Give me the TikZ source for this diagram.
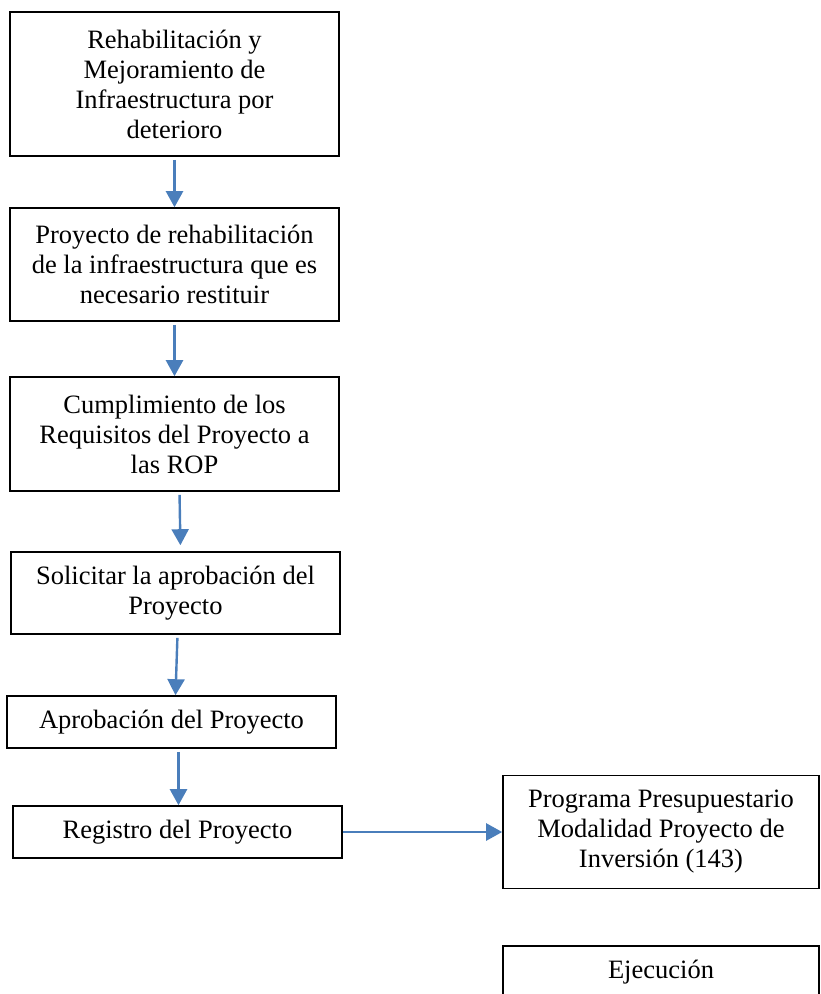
\documentclass[tikz,border=0pt]{standalone}
\usepackage{fontspec}
\setmainfont{Liberation Serif}
\usepackage{xcolor}
\usepackage{tikz}
\usetikzlibrary{arrows.meta}

\definecolor{azulflecha}{HTML}{4A7EBB}

\tikzset{
    caja/.style={draw=black, line width=1.6pt, inner sep=0pt, align=center,
        font=\fontsize{26.5}{30}\selectfont},
    flecha/.style={draw=azulflecha, line width=2.4pt,
        -{Triangle[width=17pt,length=16pt]}, shorten <=3pt}
}

\begin{document}
\begin{tikzpicture}[x=1pt,y=-1pt]

    % Marco y recorte
    \useasboundingbox (0,0) rectangle (820,994);
    \clip (0,0) rectangle (820,994);

    % Columna izquierda
    \node[caja, minimum width=329pt, minimum height=144pt] (rehab) at (174.5,84)
        {Rehabilitación y\\Mejoramiento de\\Infraestructura por\\deterioro};
    \node[caja, minimum width=329pt, minimum height=113pt] (proyecto) at (174.5,264.5)
        {Proyecto de rehabilitación\\de la infraestructura que es\\necesario restituir};
    \node[caja, minimum width=329pt, minimum height=114pt] (requisitos) at (174.5,434)
        {Cumplimiento de los\\Requisitos del Proyecto a\\las ROP};
    \node[caja, minimum width=329pt, minimum height=82pt] (solicitud) at (175.5,593)
        {Solicitar la aprobación del\\Proyecto};
    \node[caja, minimum width=329pt, minimum height=52pt] (aprobacion) at (171.5,722)
        {Aprobación del Proyecto};
    \node[caja, minimum width=329pt, minimum height=52pt] (registro) at (177.5,832)
        {Registro del Proyecto};

    % Columna derecha
    \node[caja, minimum width=316pt, minimum height=113pt] (programa) at (661,832)
        {Programa Presupuestario\\Modalidad Proyecto de\\Inversión (143)};
    \node[caja, minimum width=316pt, minimum height=52pt] (ejecucion) at (661,972)
        {Ejecución};

    % Flechas
    \draw[flecha] (rehab.south) -- (proyecto.north);
    \draw[flecha] (proyecto.south) -- (requisitos.north);
    \draw[flecha, shorten >=6pt] ([xshift=5pt]requisitos.south) -- ([xshift=5pt]solicitud.north);
    \draw[flecha] ([xshift=2pt]solicitud.south) -- ([xshift=4pt]aprobacion.north);
    \draw[flecha] ([xshift=1pt]registro.north |- aprobacion.south) -- ([xshift=1pt]registro.north);
    \draw[flecha, shorten <=0pt] (registro.east) -- (programa.west);

\end{tikzpicture}
\end{document}
